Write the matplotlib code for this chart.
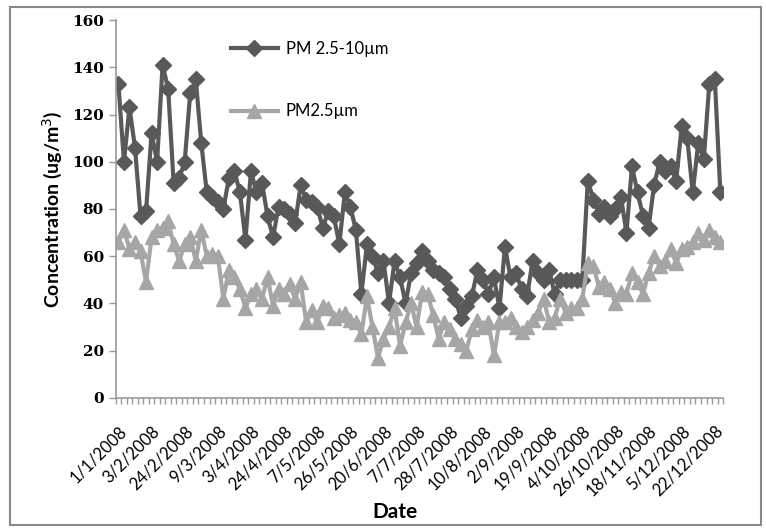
import matplotlib
matplotlib.use("Agg")
import matplotlib.pyplot as plt
import numpy as np
from matplotlib.patches import Rectangle

# PM 2.5-10um (dark diamonds), one value per sample
pm_coarse = [133, 100, 123, 106, 77, 79, 112, 100, 141, 131,
             91, 93, 100, 129, 135, 108, 87, 85, 83, 80,
             93, 96, 87, 67, 96, 87, 91, 77, 68, 81,
             80, 78, 74, 90, 84, 83, 81, 72, 79, 77,
             65, 87, 81, 71, 44, 65, 60, 53, 58, 40,
             58, 51, 40, 53, 57, 62, 58, 54, 53, 51,
             46, 42, 34, 39, 43, 54, 50, 44, 51, 38,
             64, 51, 53, 46, 43, 58, 53, 50, 54, 44,
             50, 50, 50, 50, 50, 92, 84, 78, 81, 77,
             80, 85, 70, 98, 87, 77, 72, 90, 100, 96,
             98, 92, 115, 110, 87, 108, 101, 133, 135, 87]

# PM2.5um (light triangles)
pm_fine = [66, 71, 63, 66, 62, 49, 68, 71, 72, 75,
           65, 58, 65, 68, 58, 71, 60, 61, 60, 42,
           54, 51, 46, 38, 44, 46, 42, 51, 39, 46,
           44, 48, 42, 49, 32, 37, 32, 39, 38, 34,
           35, 36, 33, 32, 27, 43, 30, 17, 25, 30,
           38, 22, 32, 40, 30, 45, 44, 35, 25, 32,
           29, 25, 23, 20, 29, 33, 30, 32, 18, 32,
           32, 34, 30, 28, 30, 33, 36, 42, 32, 34,
           42, 36, 38, 38, 42, 57, 56, 47, 49, 46,
           40, 45, 44, 53, 49, 44, 53, 60, 56, 58,
           63, 57, 63, 64, 66, 70, 67, 71, 68, 66]

# dates shown on the axis (every 6th sample)
date_labels = ["1/1/2008", "3/2/2008", "24/2/2008", "9/3/2008", "3/4/2008",
               "24/4/2008", "7/5/2008", "26/5/2008", "20/6/2008", "7/7/2008",
               "28/7/2008", "10/8/2008", "2/9/2008", "19/9/2008", "4/10/2008",
               "26/10/2008", "18/11/2008", "5/12/2008", "22/12/2008"]
label_step = 6

x = np.arange(len(pm_coarse))

fig = plt.figure(figsize=(7.66, 5.29), dpi=100)
ax = fig.add_axes([0.151, 0.248, 0.793, 0.714])

ax.plot(x, pm_coarse, color="#595959", lw=3, marker="D", ms=8.5,
        label="PM 2.5-10\u00b5m")
ax.plot(x, pm_fine, color="#a6a6a6", lw=3, marker="^", ms=10,
        label="PM2.5\u00b5m")

ax.set_xlim(-0.5, len(x) - 0.5)
ax.set_ylim(0, 160)
ax.set_yticks(np.arange(0, 161, 20))
ax.set_xticks(np.arange(0, len(date_labels) * label_step, label_step))
ax.set_xticklabels(date_labels, rotation=45, ha="right", rotation_mode="anchor",
                   fontsize=12, family="Lato")
ax.set_xticks(np.arange(-0.5, len(x), 1), minor=True)
ax.tick_params(axis="x", which="major", length=0, pad=18)
ax.tick_params(axis="x", which="minor", length=4, color="#999999", width=1)
ax.tick_params(axis="y", length=5, color="#999999", width=1)
for lab in ax.get_yticklabels():
    lab.set_family("DejaVu Serif")
    lab.set_fontweight("bold")
    lab.set_fontsize(11)

for s in ["top", "right"]:
    ax.spines[s].set_visible(False)
for s in ["left", "bottom"]:
    ax.spines[s].set_color("#999999")
    ax.spines[s].set_linewidth(1.2)

ax.set_ylabel("Concentration (ug/m$^3$)", fontsize=14, fontweight="bold",
              family="Lato", labelpad=6)
ax.set_xlabel("Date", fontsize=15, fontweight="bold", family="Lato")
ax.xaxis.set_label_coords(0.46, -0.275)

ax.legend(loc="upper left", bbox_to_anchor=(0.165, 0.985), frameon=False,
          handlelength=2.8, handletextpad=0.5, labelspacing=2.8,
          prop={"family": "Lato", "size": 12})

fig.patches.append(Rectangle((0.013, 0.008), 0.98, 0.978, transform=fig.transFigure,
                             fill=False, edgecolor="#888888", lw=1.5))

fig.savefig("out.png", dpi=100)
